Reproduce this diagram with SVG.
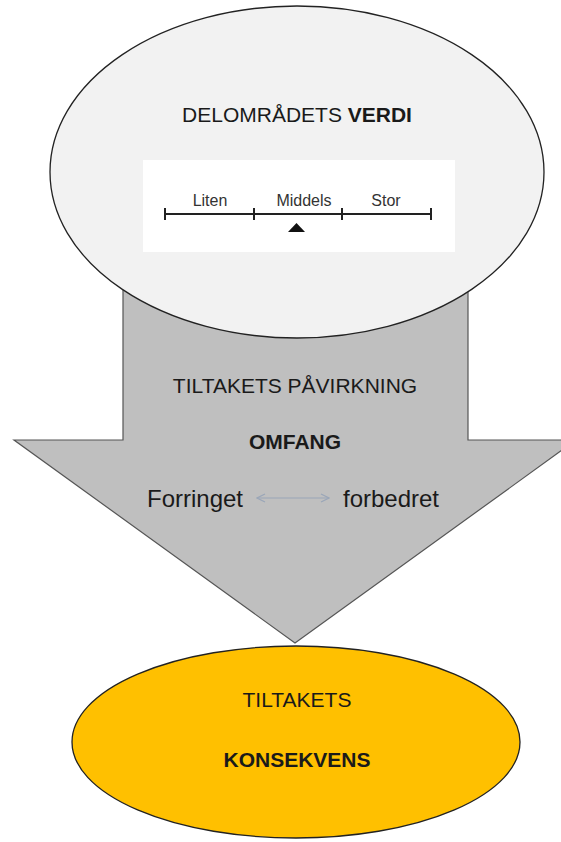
<svg xmlns="http://www.w3.org/2000/svg" width="561" height="842" viewBox="0 0 561 842">
<style>
text{font-family:"Liberation Sans",Arial,sans-serif;fill:#1a1a1a;text-anchor:middle}
.b{font-weight:bold}
.sc{font-size:16px;fill:#333}
.tick{stroke:#222;stroke-width:2}
</style>
<defs>
<marker id="ah" viewBox="0 0 10 10" refX="9" refY="5" markerWidth="10" markerHeight="10" markerUnits="userSpaceOnUse" orient="auto-start-reverse">
<path d="M1,1 L9,5 L1,9" fill="none" stroke="#9aa6b8" stroke-width="1.2"/>
</marker>
</defs>
<rect width="561" height="842" fill="#fff"/>
<g id="arrow">
<polygon points="123,290 123,440 14,440 295,643 576,440 468,440 468,290" fill="#bfbfbf" stroke="#555" stroke-width="1.2"/>
<text x="295" y="393" font-size="21">TILTAKETS PÅVIRKNING</text>
<text x="295" y="449" font-size="21" class="b">OMFANG</text>
<text x="195" y="507" font-size="24">Forringet</text>
<text x="391" y="507" font-size="24">forbedret</text>
</g>
<g id="connectors">
<line x1="257" y1="498" x2="329" y2="498" stroke="#9aa6b8" stroke-width="1.2" marker-start="url(#ah)" marker-end="url(#ah)"/>
</g>
<g id="verdi">
<ellipse cx="297" cy="172" rx="247" ry="166" fill="#f2f2f2" stroke="#222" stroke-width="1.3"/>
<text x="297" y="122" font-size="21">DELOMRÅDETS <tspan class="b">VERDI</tspan></text>
<rect x="143" y="160" width="312" height="92" fill="#fff"/>
<line x1="165" y1="214" x2="431" y2="214" stroke="#222" stroke-width="2"/>
<line class="tick" x1="165" y1="208" x2="165" y2="220"/>
<line class="tick" x1="254" y1="208" x2="254" y2="220"/>
<line class="tick" x1="342" y1="208" x2="342" y2="220"/>
<line class="tick" x1="431" y1="208" x2="431" y2="220"/>
<text class="sc" x="210" y="206">Liten</text>
<text class="sc" x="304" y="206">Middels</text>
<text class="sc" x="386" y="206">Stor</text>
<polygon points="288,232 305,232 296.5,223" fill="#111"/>
</g>
<g id="konsekvens">
<ellipse cx="296" cy="742" rx="224" ry="96" fill="#ffc000" stroke="#222" stroke-width="1.3"/>
<text x="297" y="707" font-size="21">TILTAKETS</text>
<text x="297" y="767" font-size="21" class="b">KONSEKVENS</text>
</g>
</svg>
